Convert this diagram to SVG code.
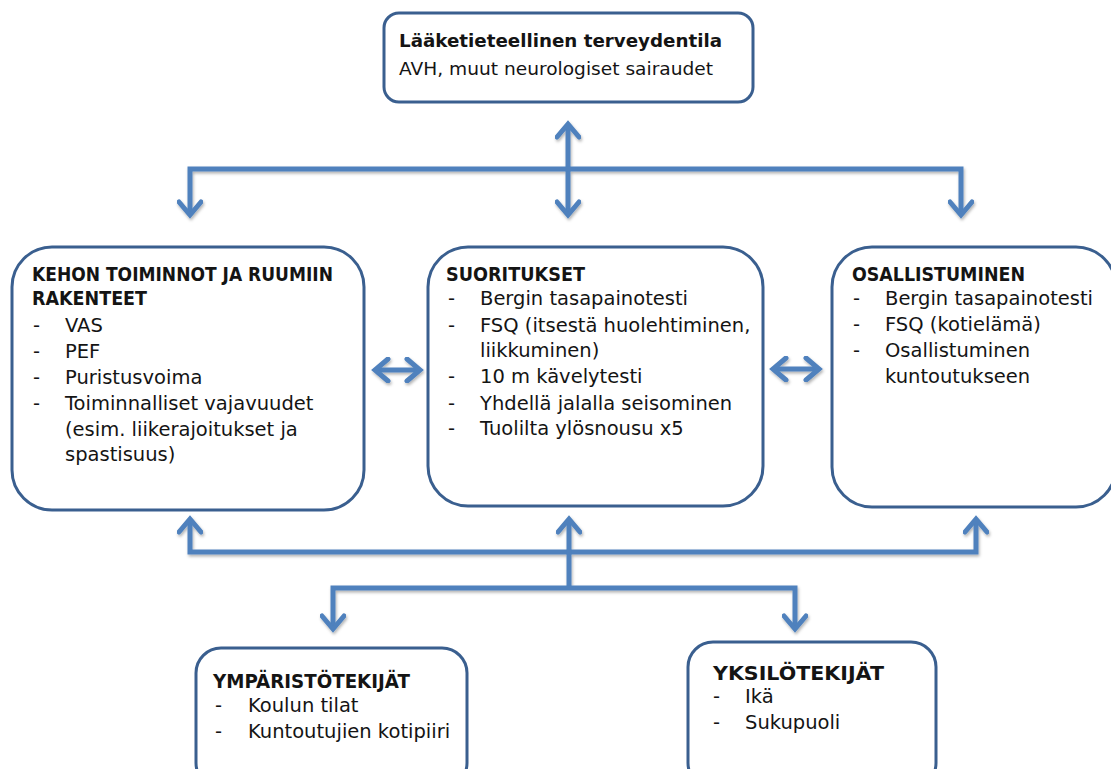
<svg xmlns="http://www.w3.org/2000/svg" width="1111" height="769" viewBox="0 0 1111 769">
<style>
.box{fill:#ffffff;stroke:#3a5f8f;stroke-width:3}
.t{font-family:"DejaVu Sans","Liberation Sans",sans-serif;fill:#141414}
.h{font-weight:bold;font-size:19.5px}
.b{font-size:19.5px}
.top{font-size:18.5px}
.c{fill:none;stroke:#4f81bd;stroke-width:5;stroke-linejoin:miter}
</style>
<defs>
<marker id="ah" viewBox="0 0 26 26" refX="16" refY="13" markerWidth="26" markerHeight="26" markerUnits="userSpaceOnUse" orient="auto-start-reverse">
<path d="M4,2 L17,13 L4,24" fill="none" stroke="#4f81bd" stroke-width="5" stroke-linecap="round" stroke-linejoin="miter"/>
</marker>
<filter id="sh" x="-10%" y="-10%" width="120%" height="120%">
<feDropShadow dx="1" dy="2" stdDeviation="1.5" flood-color="#000" flood-opacity="0.3"/>
</filter>
</defs>
<rect width="1111" height="769" fill="#ffffff"/>

<g id="connectors" filter="url(#sh)">
<line class="c" x1="568" y1="125" x2="568" y2="214" marker-start="url(#ah)" marker-end="url(#ah)"/>
<path class="c" d="M190,214 L190,169 L961,169 L961,214" marker-start="url(#ah)" marker-end="url(#ah)"/>
<line class="c" x1="376" y1="370" x2="419" y2="370" marker-start="url(#ah)" marker-end="url(#ah)"/>
<line class="c" x1="774" y1="369" x2="818" y2="369" marker-start="url(#ah)" marker-end="url(#ah)"/>
<path class="c" d="M190,520 L190,552 L976,552 L976,520" marker-start="url(#ah)" marker-end="url(#ah)"/>
<path class="c" d="M569,588 L569,520" marker-end="url(#ah)"/>
<path class="c" d="M333,628 L333,588 L795,588 L795,628" marker-start="url(#ah)" marker-end="url(#ah)"/>
</g>

<g id="node-terveydentila">
<rect class="box" x="384" y="13" width="369" height="89" rx="15"/>
<text class="t top" font-weight="bold" x="399" y="47" textLength="323" lengthAdjust="spacingAndGlyphs">Lääketieteellinen terveydentila</text>
<text class="t top" x="399" y="75" textLength="314" lengthAdjust="spacingAndGlyphs">AVH, muut neurologiset sairaudet</text>
</g>

<g id="node-kehon">
<rect class="box" x="12" y="247" width="352" height="263" rx="40"/>
<text class="t h" x="32" y="281" textLength="301" lengthAdjust="spacingAndGlyphs">KEHON TOIMINNOT  JA RUUMIIN</text>
<text class="t h" x="32" y="305" textLength="115" lengthAdjust="spacingAndGlyphs">RAKENTEET</text>
<g class="t b">
<text x="33" y="332">-</text><text x="65" y="332">VAS</text>
<text x="33" y="358">-</text><text x="65" y="358">PEF</text>
<text x="33" y="384">-</text><text x="65" y="384">Puristusvoima</text>
<text x="33" y="410">-</text><text x="65" y="410">Toiminnalliset vajavuudet</text>
<text x="65" y="436">(esim. liikerajoitukset ja</text>
<text x="65" y="461">spastisuus)</text>
</g>
</g>

<g id="node-suoritukset">
<rect class="box" x="428" y="247" width="335" height="259" rx="40"/>
<text class="t h" x="446" y="281" textLength="139" lengthAdjust="spacingAndGlyphs">SUORITUKSET</text>
<g class="t b">
<text x="448" y="305">-</text><text x="480" y="305">Bergin tasapainotesti</text>
<text x="448" y="332">-</text><text x="480" y="332">FSQ (itsestä huolehtiminen,</text>
<text x="480" y="357">liikkuminen)</text>
<text x="448" y="383">-</text><text x="480" y="383">10 m kävelytesti</text>
<text x="448" y="410">-</text><text x="480" y="410">Yhdellä jalalla seisominen</text>
<text x="448" y="435">-</text><text x="480" y="435">Tuolilta ylösnousu x5</text>
</g>
</g>

<g id="node-osallistuminen">
<rect class="box" x="832" y="247" width="284" height="260" rx="40"/>
<text class="t h" x="852" y="281" textLength="173" lengthAdjust="spacingAndGlyphs">OSALLISTUMINEN</text>
<g class="t b">
<text x="853" y="305">-</text><text x="885" y="305">Bergin tasapainotesti</text>
<text x="853" y="331">-</text><text x="885" y="331">FSQ (kotielämä)</text>
<text x="853" y="357">-</text><text x="885" y="357">Osallistuminen</text>
<text x="885" y="383">kuntoutukseen</text>
</g>
</g>

<g id="node-ymparisto">
<rect class="box" x="196" y="648" width="271" height="140" rx="25"/>
<text class="t h" x="213" y="688" textLength="197" lengthAdjust="spacingAndGlyphs">YMPÄRISTÖTEKIJÄT</text>
<g class="t b">
<text x="215" y="712">-</text><text x="248" y="712">Koulun tilat</text>
<text x="215" y="738">-</text><text x="248" y="738">Kuntoutujien kotipiiri</text>
</g>
</g>

<g id="node-yksilo">
<rect class="box" x="688" y="642" width="248" height="146" rx="25"/>
<text class="t h" x="713" y="680" textLength="171" lengthAdjust="spacingAndGlyphs">YKSILÖTEKIJÄT</text>
<g class="t b">
<text x="713" y="703">-</text><text x="745" y="703">Ikä</text>
<text x="713" y="729">-</text><text x="745" y="729">Sukupuoli</text>
</g>
</g>
</svg>
